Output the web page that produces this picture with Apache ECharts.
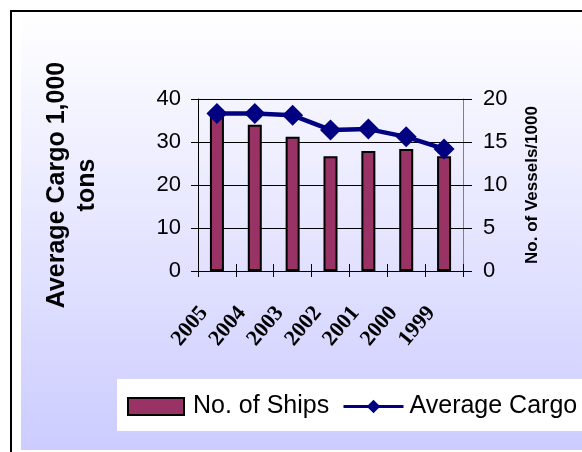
<!DOCTYPE html>
<html>
<head>
<meta charset="utf-8">
<script src="https://cdn.jsdelivr.net/npm/echarts@6/dist/echarts.min.js"></script>
<style>
  html, body { margin: 0; padding: 0; background: #ffffff; }
  #chart { width: 582px; height: 452px; }
</style>
</head>
<body>
<div id="chart"></div>
<script>
// Fleet statistics by year
const years = ['2005', '2004', '2003', '2002', '2001', '2000', '1999'];
const shipCounts = [37.5, 34, 31.2, 26.7, 27.9, 28.4, 26.7];     // bars, left axis
const averageCargo = [18.3, 18.3, 18.1, 16.4, 16.5, 15.6, 14.2];  // line, right axis
const leftTicks = { min: 0, max: 40, interval: 10 };
const rightTicks = { min: 0, max: 20, interval: 5 };

const sans = 'Liberation Sans, Arial, sans-serif';
const serif = 'Liberation Serif, Times New Roman, serif';

const chart = echarts.init(document.getElementById('chart'), null, { renderer: 'canvas' });

const legendText = { fontFamily: sans, fontSize: 25, color: '#000000' };

chart.setOption({
  animation: false,
  backgroundColor: '#ffffff',
  graphic: [
    {
      type: 'rect', z: -20, silent: true,
      shape: { x: 21, y: 13, width: 561, height: 437 },
      style: {
        fill: new echarts.graphic.LinearGradient(0, 0, 0, 1, [
          { offset: 0, color: '#ffffff' },
          { offset: 1, color: '#ccccff' }
        ])
      }
    },
    {
      type: 'rect', z: -10, silent: true,
      shape: { x: 11, y: 11, width: 640, height: 520 },
      style: { fill: 'none', stroke: '#000000', lineWidth: 2 }
    },
    {
      // legend panel
      type: 'rect', z: -5, silent: true,
      shape: { x: 117, y: 379, width: 480, height: 52 },
      style: { fill: '#ffffff' }
    }
  ],
  grid: { left: 198, right: 119, top: 99, bottom: 181, containLabel: false },
  legend: [
    {
      left: 127, top: 394, padding: 0,
      itemWidth: 56, itemHeight: 17, icon: 'rect',
      textStyle: Object.assign({ padding: [0, 0, 0, 4] }, legendText),
      data: ['No. of Ships']
    },
    {
      left: 342, top: 394, padding: 0,
      itemWidth: 60, itemHeight: 17,
      lineStyle: { width: 3 },
      textStyle: Object.assign({ padding: [0, 0, 0, 1] }, legendText),
      data: ['Average Cargo']
    }
  ],
  xAxis: [
    {
      type: 'category', data: years, boundaryGap: true,
      axisLine: { lineStyle: { color: '#000000', width: 1 } },
      axisTick: { show: true, length: 6, inside: false, lineStyle: { color: '#000000' } },
      axisLabel: {
        rotate: 50, margin: 23, interval: 0, padding: [0, 20, 0, 0],
        fontFamily: serif, fontWeight: 'bold', fontSize: 22, color: '#000000'
      },
      splitLine: { show: false }
    },
    {
      // inner half of the crossing category ticks
      type: 'category', data: years, boundaryGap: true, position: 'bottom',
      axisLine: { show: false },
      axisTick: { show: true, length: 7, inside: true, lineStyle: { color: '#000000' } },
      axisLabel: { show: false },
      splitLine: { show: false }
    }
  ],
  yAxis: [
    {
      type: 'value', position: 'left',
      min: leftTicks.min, max: leftTicks.max, interval: leftTicks.interval,
      name: 'Average Cargo 1,000\ntons',
      nameLocation: 'middle', nameRotate: 90, nameGap: 96,
      nameTextStyle: { fontFamily: sans, fontWeight: 'bold', fontSize: 25, lineHeight: 30, color: '#000000' },
      axisLine: { show: true, lineStyle: { color: '#000000', width: 1 } },
      axisTick: { show: true, length: 7, lineStyle: { color: '#000000' } },
      axisLabel: { margin: 17, fontFamily: sans, fontSize: 22, color: '#000000' },
      splitLine: { show: true, lineStyle: { color: '#000000', width: 1 } }
    },
    {
      type: 'value', position: 'right',
      min: rightTicks.min, max: rightTicks.max, interval: rightTicks.interval,
      name: 'No. of Vessels/1000',
      nameLocation: 'middle', nameRotate: 90, nameGap: 61,
      nameTextStyle: { fontFamily: sans, fontWeight: 'bold', fontSize: 17, color: '#000000' },
      axisLine: { show: true, lineStyle: { color: '#808080', width: 1 } },
      axisTick: { show: true, length: 9, lineStyle: { color: '#000000' } },
      axisLabel: { margin: 20, fontFamily: sans, fontSize: 22, color: '#000000' },
      splitLine: { show: false }
    }
  ],
  series: [
    {
      name: 'No. of Ships', type: 'bar', xAxisIndex: 0, yAxisIndex: 0,
      data: shipCounts, barWidth: 14,
      itemStyle: { color: '#993366', borderColor: '#000000', borderWidth: 2 }
    },
    {
      name: 'Average Cargo', type: 'line', xAxisIndex: 0, yAxisIndex: 1,
      data: averageCargo,
      symbol: 'diamond', symbolSize: 21,
      lineStyle: { color: '#000080', width: 4.5 },
      itemStyle: { color: '#000080' },
      z: 5
    }
  ]
});
</script>
</body>
</html>
